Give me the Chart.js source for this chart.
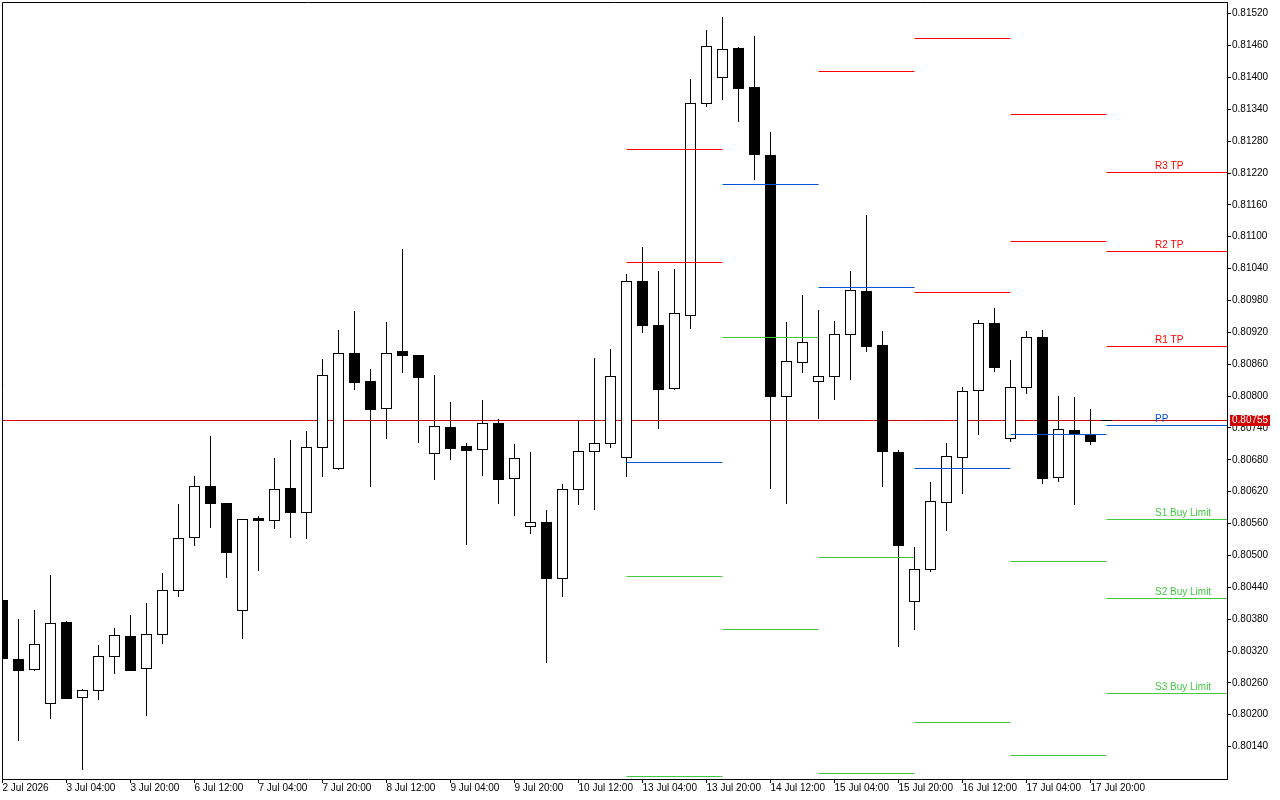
<!DOCTYPE html>
<html>
<head>
<meta charset="utf-8">
<script src="https://cdn.jsdelivr.net/npm/chart.js@4.4.0/dist/chart.umd.min.js"></script>
<style>
html,body{margin:0;padding:0;background:#fff;overflow:hidden}
canvas{display:block}
</style>
</head>
<body>
<canvas id="c" width="1280" height="800"></canvas>
<script>
// ---- candle data (4H bars, index 0 = first bar) ----
const opens  = [0.80416,0.80305,0.80286,0.80222,0.80374,0.80233,0.80246,0.80310,0.80348,0.80288,
                0.80352,0.80435,0.80534,0.80631,0.80598,0.80397,0.80570,0.80566,0.80627,0.80582,
                0.80704,0.80664,0.80881,0.80828,0.80777,0.80885,0.80877,0.80693,0.80741,0.80706,
                0.80701,0.80749,0.80645,0.80556,0.80563,0.80458,0.80625,0.80696,0.80711,0.80685,
                0.81017,0.80934,0.80816,0.80952,0.81351,0.81400,0.81455,0.81382,0.81254,0.80801,
                0.80864,0.80828,0.80837,0.80917,0.80997,0.80896,0.80694,0.80414,0.80475,0.80600,
                0.80685,0.80811,0.80937,0.80721,0.80817,0.80911,0.80647,0.80736,0.80727];
const highs  = [0.80420,0.80381,0.80398,0.80463,0.80377,0.80249,0.80332,0.80364,0.80388,0.80411,
                0.80467,0.80597,0.80650,0.80725,0.80599,0.80569,0.80575,0.80683,0.80717,0.80734,
                0.80870,0.80925,0.80960,0.80851,0.80940,0.81077,0.80878,0.80840,0.80789,0.80712,
                0.80793,0.80757,0.80710,0.80695,0.80586,0.80635,0.80755,0.80872,0.80889,0.81030,
                0.81081,0.81036,0.81039,0.81397,0.81489,0.81514,0.81457,0.81478,0.81297,0.80940,
                0.80991,0.80962,0.80942,0.81036,0.81141,0.80923,0.80698,0.80516,0.80638,0.80712,
                0.80817,0.80943,0.80966,0.80868,0.80923,0.80925,0.80800,0.80799,0.80776];
const lows   = [0.80303,0.80152,0.80285,0.80193,0.80231,0.80097,0.80229,0.80278,0.80284,0.80199,
                0.80336,0.80423,0.80519,0.80553,0.80460,0.80345,0.80473,0.80551,0.80534,0.80532,
                0.80650,0.80663,0.80814,0.80630,0.80722,0.80846,0.80714,0.80643,0.80682,0.80522,
                0.80652,0.80598,0.80577,0.80542,0.80300,0.80424,0.80596,0.80588,0.80705,0.80650,
                0.80920,0.80739,0.80814,0.80929,0.81347,0.81360,0.81317,0.81208,0.80627,0.80599,
                0.80846,0.80758,0.80795,0.80833,0.80884,0.80630,0.80330,0.80362,0.80470,0.80547,
                0.80618,0.80728,0.80848,0.80716,0.80805,0.80637,0.80641,0.80596,0.80709];
const closes = [0.80306,0.80285,0.80333,0.80373,0.80232,0.80246,0.80310,0.80350,0.80285,0.80352,
                0.80435,0.80533,0.80630,0.80598,0.80507,0.80568,0.80566,0.80625,0.80581,0.80704,
                0.80839,0.80881,0.80827,0.80775,0.80881,0.80878,0.80835,0.80743,0.80703,0.80699,
                0.80749,0.80643,0.80683,0.80562,0.80458,0.80625,0.80696,0.80711,0.80837,0.81016,
                0.80933,0.80814,0.80956,0.81351,0.81459,0.81453,0.81381,0.81255,0.80801,0.80866,
                0.80901,0.80837,0.80917,0.80999,0.80895,0.80696,0.80519,0.80474,0.80602,0.80687,
                0.80809,0.80937,0.80854,0.80817,0.80911,0.80645,0.80738,0.80729,0.80716];

// ---- axis ticks ----
const xTickIndex  = [0,4,8,12,16,20,24,28,32,36,40,44,48,52,56,60,64,68];
const xTickLabels = ['2 Jul 2026','3 Jul 04:00','3 Jul 20:00','6 Jul 12:00','7 Jul 04:00','7 Jul 20:00',
                     '8 Jul 12:00','9 Jul 04:00','9 Jul 20:00','10 Jul 12:00','13 Jul 04:00','13 Jul 20:00',
                     '14 Jul 12:00','15 Jul 04:00','15 Jul 20:00','16 Jul 12:00','17 Jul 04:00','17 Jul 20:00'];
const yTickValues = [0.81520,0.81460,0.81400,0.81340,0.81280,0.81220,0.81160,0.81100,0.81040,0.80980,
                     0.80920,0.80860,0.80800,0.80740,0.80680,0.80620,0.80560,0.80500,0.80440,0.80380,
                     0.80320,0.80260,0.80200,0.80140];

// ---- daily pivot levels (segments per trading day) ----
const dayStart = [39,45,51,57,63];
const dayEnd   = [45,51,57,63,69];
const dayR3 = [null,null,null,null,null];
const dayR2 = [0.81265,null,null,0.81474,0.81331];
const dayR1 = [0.81052,null,0.81412,0.80996,0.81092];
const dayPP = [0.80676,0.81199,0.81005,0.80664,0.80728];
const dayS1 = [0.80461,0.80911,0.80497,0.80186,0.80489];
const dayS2 = [0.80085,0.80361,0.80090,null,0.80124];
const dayS3 = [null,null,null,null,null];

// next day levels (labelled)
const nextStart  = 69;
const nextLevels = [0.81222,0.81073,0.80895,0.80745,0.80568,0.80420,0.80241];
const nextLabels = ['R3 TP','R2 TP','R1 TP','PP','S1 Buy Limit','S2 Buy Limit','S3 Buy Limit'];
const labelIndex = 72;

const currentPrice = 0.80755;
const priceStub = [68.66, 69.34];

// ---- view range ----
const yMin = 0.80079, yMax = 0.81542;
const xMin = -0.03125, xMax = 76.53125;

const RED = '#ff0000', BLUE = '#0052d9', GREEN = '#44c844', CUR = '#d00000';
const levelColors = [RED,RED,RED,BLUE,GREEN,GREEN,GREEN];
const dayLevels = [dayR3,dayR2,dayR1,dayPP,dayS1,dayS2,dayS3];

function levelData(li){
  const pts = [];
  const arr = dayLevels[li];
  for (let d = 0; d < dayStart.length; d++){
    if (arr[d] === null) continue;
    pts.push({x: dayStart[d], y: arr[d]}, {x: dayEnd[d], y: arr[d]}, {x: dayEnd[d], y: null});
  }
  pts.push({x: nextStart, y: nextLevels[li]}, {x: xMax, y: nextLevels[li]});
  return pts;
}

const FONT = '"Liberation Sans", Arial, sans-serif';
Chart.defaults.font.family = FONT;
Chart.defaults.font.size = 10;
Chart.defaults.color = '#000';

const datasets = [];
for (let li = 0; li < 7; li++){
  datasets.push({
    type: 'line', data: levelData(li), borderColor: levelColors[li], borderWidth: 1,
    pointRadius: 0, fill: false, tension: 0, spanGaps: false, order: 0
  });
}
datasets.push({
  type: 'line', data: [{x: priceStub[0], y: currentPrice}, {x: priceStub[1], y: currentPrice}],
  borderColor: '#000', borderWidth: 1, pointRadius: 0, fill: false, order: 0
});
datasets.push({
  type: 'bar',
  data: opens.map((o, i) => ({x: i, y: [o, closes[i]]})),
  backgroundColor: (ctx) => (ctx.dataIndex !== undefined && closes[ctx.dataIndex] > opens[ctx.dataIndex]) ? '#ffffff' : '#000000',
  borderColor: '#000', borderWidth: 1, borderSkipped: false, barThickness: 11,
  grouped: false, inflateAmount: 0, clip: 0, order: 1
});
datasets.push({
  type: 'bar',
  data: lows.map((l, i) => ({x: i, y: [l, highs[i]]})),
  backgroundColor: '#000', borderWidth: 0, barThickness: 1,
  grouped: false, inflateAmount: 0, clip: 0, order: 2
});
datasets.push({
  type: 'line', data: [{x: xMin, y: currentPrice}, {x: xMax, y: currentPrice}],
  borderColor: CUR, borderWidth: 1, pointRadius: 0, fill: false, order: 3
});

// snap computed element positions to the pixel grid for crisp 1px rendering
const pixelSnap = {
  id: 'pixelSnap',
  afterDatasetsUpdate(chart){
    chart.getSortedVisibleDatasetMetas().forEach(meta => {
      if (meta.type === 'line'){
        meta.data.forEach(p => { if (!p.skip && isFinite(p.y)) p.y = Math.round(p.y) + 0.5; });
        if (meta.dataset) meta.dataset._path = undefined;
      } else if (meta.type === 'bar'){
        meta.data.forEach(b => {
          const top = Math.round(Math.min(b.y, b.base));
          const bot = Math.round(Math.max(b.y, b.base)) + 1;
          if (b.y <= b.base){ b.y = top; b.base = bot; } else { b.y = bot; b.base = top; }
        });
      }
    });
  }
};

const overlay = {
  id: 'overlay',
  afterDatasetsDraw(chart){
    const ctx = chart.ctx, a = chart.chartArea;
    const xs = chart.scales.x, ys = chart.scales.y;
    ctx.save();
    ctx.strokeStyle = '#000'; ctx.lineWidth = 1;
    ctx.beginPath();
    ctx.moveTo(a.left + 0.5, a.bottom); ctx.lineTo(a.left + 0.5, a.top + 0.5); ctx.lineTo(a.right, a.top + 0.5);
    ctx.stroke();
    ctx.font = '10px ' + FONT;
    ctx.textAlign = 'left'; ctx.textBaseline = 'alphabetic';
    for (let i = 0; i < nextLabels.length; i++){
      ctx.fillStyle = levelColors[i];
      ctx.fillText(nextLabels[i], Math.round(xs.getPixelForValue(labelIndex)), Math.round(ys.getPixelForValue(nextLevels[i])) - 3);
    }
    ctx.restore();
  },
  afterDraw(chart){
    const ctx = chart.ctx, ys = chart.scales.y, a = chart.chartArea;
    const y = Math.round(ys.getPixelForValue(currentPrice));
    ctx.save();
    ctx.fillStyle = CUR;
    ctx.fillRect(a.right + 3, y - 5, 40, 11);
    ctx.fillStyle = '#fff';
    ctx.font = '10px ' + FONT;
    ctx.textAlign = 'left'; ctx.textBaseline = 'middle';
    ctx.fillText(currentPrice.toFixed(5), a.right + 5, y + 0.5);
    ctx.restore();
  }
};

new Chart(document.getElementById('c'), {
  type: 'bar',
  data: {datasets},
  options: {
    responsive: false, animation: false, devicePixelRatio: 1,
    layout: {padding: {left: 2, top: 2, right: 0, bottom: 0}},
    plugins: {legend: {display: false}, tooltip: {enabled: false}},
    scales: {
      x: {
        type: 'linear', position: 'bottom', min: xMin, max: xMax, offset: false,
        afterBuildTicks: (s) => { s.ticks = xTickIndex.map(v => ({value: v})); },
        afterFit: (s) => { s.height = 21; s.paddingLeft = 0; s.paddingRight = 0; },
        ticks: {autoSkip: false, maxRotation: 0, minRotation: 0, align: 'start', padding: -1, color: '#000',
                callback: (v, i) => xTickLabels[i]},
        grid: {offset: false, drawOnChartArea: false, drawTicks: true, tickLength: 4, tickColor: '#000', tickWidth: 1},
        border: {display: true, color: '#000', width: 1}
      },
      y: {
        type: 'linear', position: 'right', min: yMin, max: yMax, beginAtZero: false,
        afterBuildTicks: (s) => { s.ticks = yTickValues.map(v => ({value: v})); },
        afterFit: (s) => { s.width = 53; s.paddingTop = 0; s.paddingBottom = 0; },
        ticks: {autoSkip: false, padding: 1, color: '#000', callback: (v) => Number(v).toFixed(5)},
        grid: {drawOnChartArea: false, drawTicks: true, tickLength: 4, tickColor: '#000', tickWidth: 1},
        border: {display: true, color: '#000', width: 1}
      }
    }
  },
  plugins: [pixelSnap, overlay]
});
</script>
</body>
</html>
